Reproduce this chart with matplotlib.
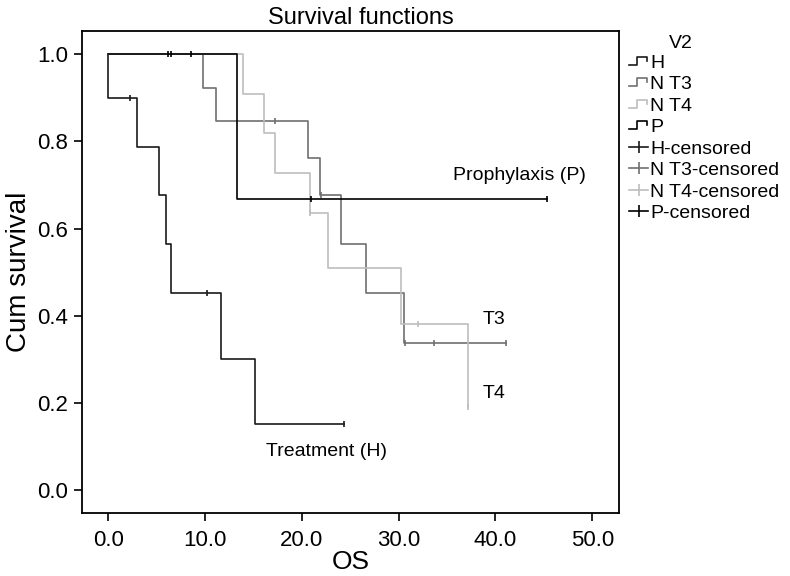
import numpy as np
import matplotlib
matplotlib.use("Agg")
import matplotlib.pyplot as plt
from matplotlib.lines import Line2D
from matplotlib.legend_handler import HandlerBase

plt.rcParams['font.family'] = ['Liberation Sans', 'DejaVu Sans']

# Kaplan-Meier steps (time of event, survival after it)
h_events = [0.0, 3.0, 5.2, 6.0, 6.5, 11.6, 15.2]
h_surv = [0.900, 0.788, 0.676, 0.564, 0.451, 0.301, 0.151]
h_cens = [2.2, 10.2, 24.3]

t3_events = [9.75, 11.1, 20.6, 21.9, 24.0, 26.6, 30.5]
t3_surv = [0.923, 0.846, 0.762, 0.677, 0.564, 0.451, 0.338]
t3_cens = [17.2, 22.0, 30.7, 33.6, 41.1]

t4_events = [13.9, 16.1, 17.2, 20.8, 22.7, 30.2, 37.2]
t4_surv = [0.909, 0.818, 0.727, 0.636, 0.509, 0.382, 0.191]
t4_cens = [20.8, 32.0, 37.2]

p_events = [13.3]
p_surv = [0.667]
p_cens = [6.2, 6.45, 8.5, 20.9, 45.3]

groups = ['H', 'N T3', 'N T4', 'P']
colors = ['#1a1a1a', '#707070', '#bdbdbd', '#000000']
series = [(h_events, h_surv, h_cens), (t3_events, t3_surv, t3_cens),
          (t4_events, t4_surv, t4_cens), (p_events, p_surv, p_cens)]


def km_value(events, surv, t):
    i = np.searchsorted(events, t, side='right')
    return 1.0 if i == 0 else surv[i - 1]


class StepHandler(HandlerBase):
    def create_artists(self, legend, orig_handle, xdescent, ydescent,
                       width, height, fontsize, trans):
        x = np.array([0, 0.42, 0.42, 0.95, 0.95]) * width - xdescent
        y = np.array([0.2, 0.2, 0.8, 0.8, 0.5]) * height - ydescent
        ln = Line2D(x, y, color=orig_handle.get_color(), lw=1.2)
        ln.set_transform(trans)
        return [ln]


fig = plt.figure(figsize=(7.9, 5.76), dpi=100)
ax = fig.add_axes([0.1034, 0.1089, 0.6806, 0.8381])

step_handles = []
cens_handles = []
for name, col, (ev, sv, cs) in zip(groups, colors, series):
    end = max(ev[-1], cs[-1]) if cs else ev[-1]
    xs = [0] + list(ev) + [end]
    ys = [1.0] + list(sv) + [sv[-1]]
    ln, = ax.step(xs, ys, where='post', color=col, lw=1.2)
    step_handles.append(ln)
    cy = [km_value(ev, sv, t) for t in cs]
    ax.plot(cs, cy, linestyle='none', marker='|', markersize=5,
            markeredgewidth=1.2, color=col)
    cens_handles.append(Line2D([], [], color=col, lw=1.2, marker='|',
                               markersize=8, markeredgewidth=1.2))

ax.set_xlim(-2.75, 52.8)
ax.set_ylim(-0.053, 1.054)
ax.set_xticks([0, 10, 20, 30, 40, 50])
ax.set_xticklabels(['0.0', '10.0', '20.0', '30.0', '40.0', '50.0'])
ax.set_yticks([0, 0.2, 0.4, 0.6, 0.8, 1.0])
ax.set_yticklabels(['0.0', '0.2', '0.4', '0.6', '0.8', '1.0'])
ax.tick_params(direction='out', length=6, width=1.2, labelsize=16,
               top=False, right=False)
ax.tick_params(axis='x', pad=6)
for s in ax.spines.values():
    s.set_linewidth(1.3)

ax.set_xlabel('OS', fontsize=19, labelpad=-1)
ax.set_ylabel('Cum survival', fontsize=20, labelpad=4)
ax.set_title('Survival functions', fontsize=17, pad=5, x=0.52)

ax.text(35.6, 0.722, 'Prophylaxis (P)', fontsize=14, va='center')
ax.text(38.7, 0.392, 'T3', fontsize=14, va='center')
ax.text(38.7, 0.222, 'T4', fontsize=14, va='center')
ax.text(16.3, 0.088, 'Treatment (H)', fontsize=14, va='center')

fig.text(669 / 790, 1 - 43 / 576, 'V2', fontsize=14, va='center')
handler_map = {h: StepHandler() for h in step_handles}
fig.legend(step_handles + cens_handles,
           groups + [g + '-censored' for g in groups],
           loc='upper left', bbox_to_anchor=(629 / 790, 1 - 54 / 576),
           frameon=False, fontsize=14, handlelength=1.0, handletextpad=0.1,
           labelspacing=0.2, borderpad=0, borderaxespad=0,
           handler_map=handler_map)

fig.savefig('out.png', dpi=100)
